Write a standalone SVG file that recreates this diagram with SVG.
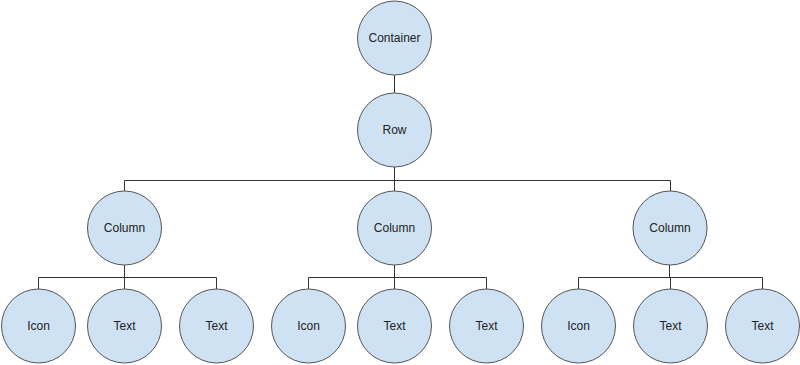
<svg xmlns="http://www.w3.org/2000/svg" width="800" height="365" viewBox="0 0 800 365">
<style>
.n circle{fill:#cfe2f3;stroke:#555555;stroke-width:1}
.n text{font-family:"Liberation Sans",Arial,sans-serif;font-size:12px;fill:#222;text-anchor:middle;dominant-baseline:central}
#edges path{fill:none;stroke:#333333;stroke-width:1}
</style>
<rect width="800" height="365" fill="#ffffff"/>
<g id="edges">
<path d="M394.5 75V93"/>
<path d="M394.5 167V180.5M124.5 180.5H670.5M124.5 180.5V191M670.5 180.5V191M394.5 180.5V191"/>
<path d="M124.5 265V277.5M38.5 277.5H216.5M38.5 277.5V289M124.5 277.5V289M216.5 277.5V289"/>
<path d="M394.5 265V277.5M308.5 277.5H486.5M308.5 277.5V289M394.5 277.5V289M486.5 277.5V289"/>
<path d="M669.5 265V277.5M578.5 277.5H762.5M578.5 277.5V289M670.5 277.5V289M762.5 277.5V289"/>
</g>
<g id="container" class="n"><circle cx="394.5" cy="38" r="37"/><text x="394.5" y="38">Container</text></g>
<g id="row" class="n"><circle cx="394.5" cy="130" r="37"/><text x="394.5" y="130">Row</text></g>
<g id="column1" class="n"><circle cx="124.5" cy="228" r="37"/><text x="124.5" y="228">Column</text></g>
<g id="column2" class="n"><circle cx="394.5" cy="228" r="37"/><text x="394.5" y="228">Column</text></g>
<g id="column3" class="n"><circle cx="670" cy="228" r="37"/><text x="670" y="228">Column</text></g>
<g id="icon1" class="n"><circle cx="38.5" cy="326" r="37"/><text x="38.5" y="326">Icon</text></g>
<g id="text1a" class="n"><circle cx="124.5" cy="326" r="37"/><text x="124.5" y="326">Text</text></g>
<g id="text1b" class="n"><circle cx="216.5" cy="326" r="37"/><text x="216.5" y="326">Text</text></g>
<g id="icon2" class="n"><circle cx="308.5" cy="326" r="37"/><text x="308.5" y="326">Icon</text></g>
<g id="text2a" class="n"><circle cx="394.5" cy="326" r="37"/><text x="394.5" y="326">Text</text></g>
<g id="text2b" class="n"><circle cx="486.5" cy="326" r="37"/><text x="486.5" y="326">Text</text></g>
<g id="icon3" class="n"><circle cx="578.5" cy="326" r="37"/><text x="578.5" y="326">Icon</text></g>
<g id="text3a" class="n"><circle cx="670.5" cy="326" r="37"/><text x="670.5" y="326">Text</text></g>
<g id="text3b" class="n"><circle cx="762.5" cy="326" r="37"/><text x="762.5" y="326">Text</text></g>
</svg>
